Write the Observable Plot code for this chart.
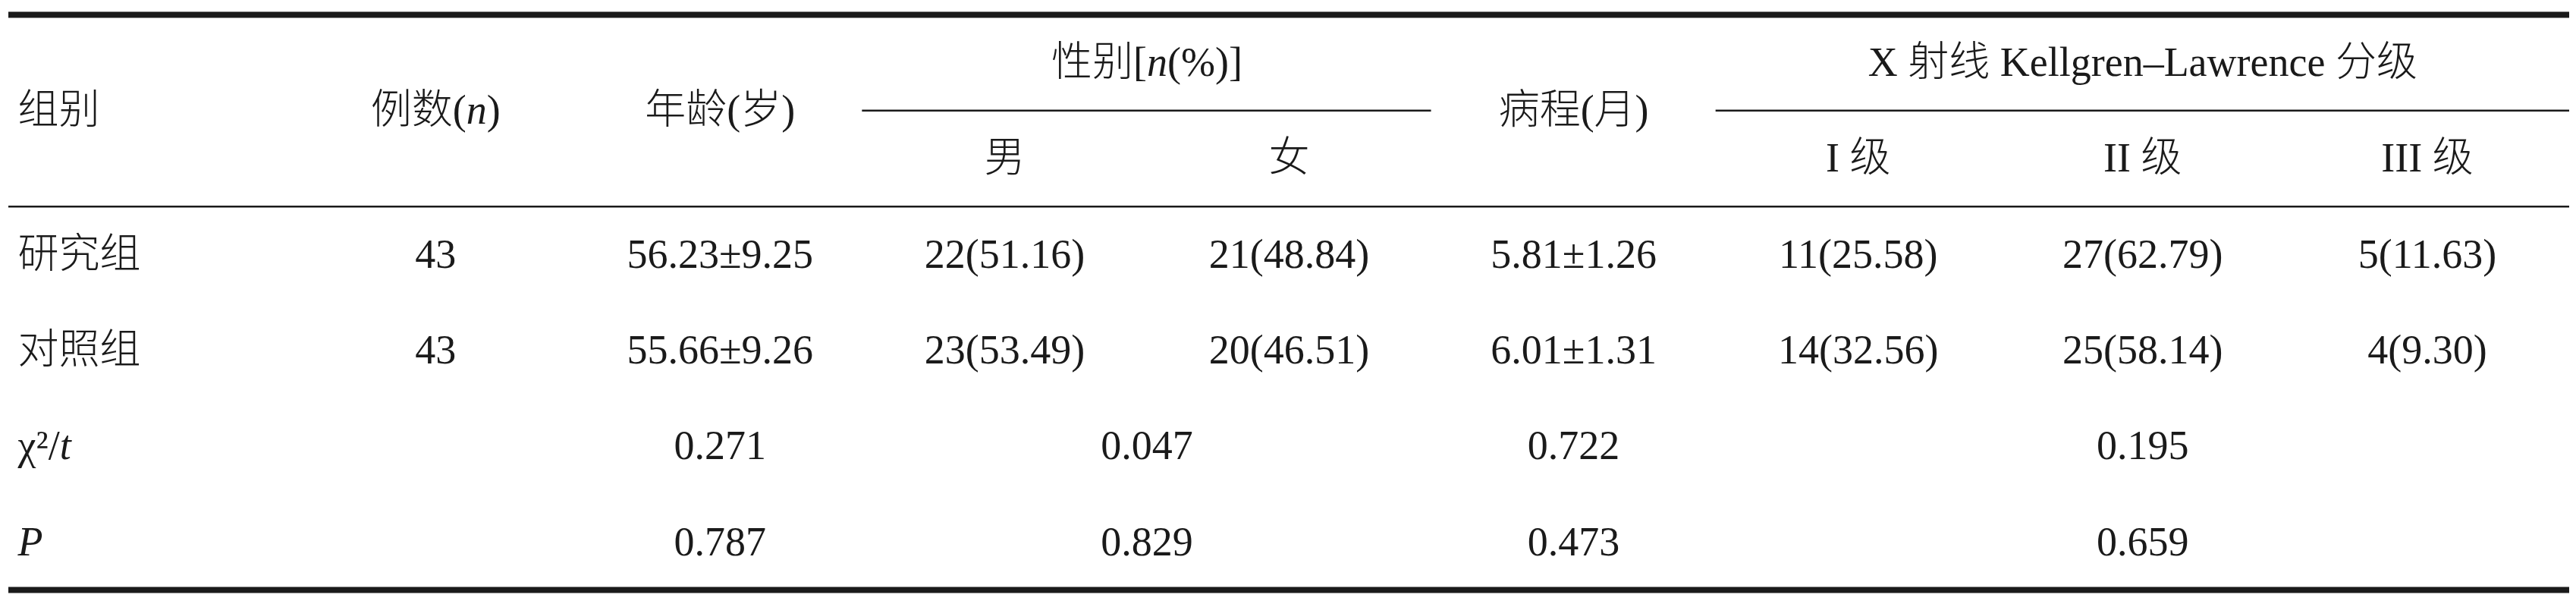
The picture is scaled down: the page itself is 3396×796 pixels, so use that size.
<!DOCTYPE html>
<html>
<head>
<meta charset="utf-8">
<script src="https://cdn.jsdelivr.net/npm/d3@7"></script>
<script src="https://cdn.jsdelivr.net/npm/@observablehq/plot@0.6"></script>
<style>
  html, body { margin: 0; padding: 0; background: #ffffff; }
  #chart svg { display: block; }
</style>
</head>
<body>
<div id="chart"></div>
<script>
// ---- data ----
const groups = ["研究组", "对照组"];
const counts = ["43", "43"];
const ages = ["56.23±9.25", "55.66±9.26"];
const male = ["22(51.16)", "23(53.49)"];
const female = ["21(48.84)", "20(46.51)"];
const course = ["5.81±1.26", "6.01±1.31"];
const grade1 = ["11(25.58)", "14(32.56)"];
const grade2 = ["27(62.79)", "25(58.14)"];
const grade3 = ["5(11.63)", "4(9.30)"];

const statLabels = ["χ²/_t_", "_P_"];
const statAge = ["0.271", "0.787"];
const statGender = ["0.047", "0.829"];
const statCourse = ["0.722", "0.473"];
const statGrade = ["0.195", "0.659"];

const headGroup = "组别";
const headCount = "例数(_n_)";
const headAge = "年龄(岁)";
const headGender = "性别[_n_(%)]";
const headGenderSub = ["男", "女"];
const headCourse = "病程(月)";
const headGrade = "X 射线 Kellgren–Lawrence 分级";
const headGradeSub = ["I 级", "II 级", "III 级"];

// ---- build cells (col = column index, row = row index) ----
const cells = [];
cells.push({col: 1, row: -1.5, text: headCount});
cells.push({col: 2, row: -1.5, text: headAge});
cells.push({col: 3.5, row: -2, text: headGender});
headGenderSub.forEach((t, i) => cells.push({col: 3 + i, row: -1, text: t}));
cells.push({col: 5, row: -1.5, text: headCourse});
cells.push({col: 7, row: -2, text: headGrade});
headGradeSub.forEach((t, i) => cells.push({col: 6 + i, row: -1, text: t}));
const bodyCols = [counts, ages, male, female, course, grade1, grade2, grade3];
groups.forEach((g, r) => {
  bodyCols.forEach((arr, c) => cells.push({col: c + 1, row: r, text: arr[r]}));
});
statLabels.forEach((s, i) => {
  const r = groups.length + i;
  cells.push({col: 2, row: r, text: statAge[i]});
  cells.push({col: 3.5, row: r, text: statGender[i]});
  cells.push({col: 5, row: r, text: statCourse[i]});
  cells.push({col: 7, row: r, text: statGrade[i]});
});
const leftCells = [{row: -1.5, text: headGroup}]
  .concat(groups.map((g, r) => ({row: r, text: g})))
  .concat(statLabels.map((s, i) => ({row: groups.length + i, text: s})));

const nRows = groups.length + statLabels.length;
const rules = [
  {y: -2.5, x1: -0.5, x2: 8.5, w: 8},
  {y: -1.5, x1: 2.5, x2: 4.5, w: 2.5},
  {y: -1.5, x1: 5.5, x2: 8.5, w: 2.5},
  {y: -0.5, x1: -0.5, x2: 8.5, w: 2.5},
  {y: nRows - 0.5, x1: -0.5, x2: 8.5, w: 8}
];

const font = "'Liberation Serif', 'Noto Sans CJK SC', serif";
const ink = "#1a1a1a";

const chart = Plot.plot({
  width: 3396,
  height: 796,
  marginLeft: 11,
  marginRight: 9,
  marginTop: 19,
  marginBottom: 19,
  x: {domain: [-0.5, 8.5], axis: null},
  y: {domain: [-2.5, nRows - 0.5], reverse: true, axis: null},
  style: {fontFamily: font, background: "#ffffff", color: ink},
  marks: [
    Plot.ruleY(rules, {y: "y", x1: "x1", x2: "x2", strokeWidth: "w", stroke: ink}),
    Plot.text(cells, {x: "col", y: "row", text: "text", fontSize: 54, fontWeight: 300, fill: ink, textAnchor: "middle"}),
    Plot.text(leftCells, {x: () => -0.5, y: "row", text: "text", dx: 12, fontSize: 54, fontWeight: 300, fill: ink, textAnchor: "start"})
  ]
});

// italic segments marked with _..._
chart.querySelectorAll("text").forEach(t => {
  const s = t.textContent;
  if (!s.includes("_")) return;
  t.textContent = "";
  s.split("_").forEach((part, i) => {
    if (!part) return;
    const ts = document.createElementNS("http://www.w3.org/2000/svg", "tspan");
    if (i % 2 === 1) ts.setAttribute("font-style", "italic");
    ts.textContent = part;
    t.appendChild(ts);
  });
});

document.getElementById("chart").appendChild(chart);
</script>
</body>
</html>
